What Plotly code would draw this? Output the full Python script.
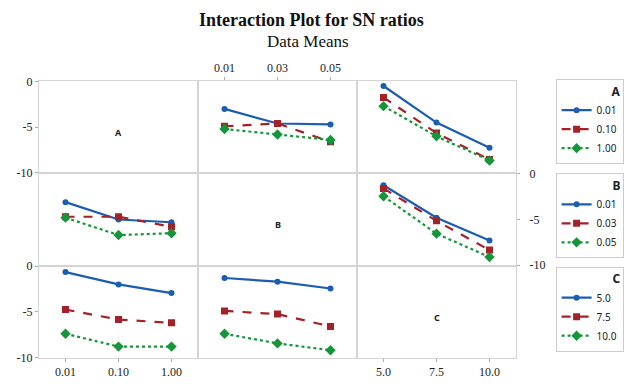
import plotly.graph_objects as go
from plotly.subplots import make_subplots

# Factor levels
a_levels = ["0.01", "0.10", "1.00"]
b_levels = ["0.01", "0.03", "0.05"]
c_levels = ["5.0", "7.5", "10.0"]

# Mean SN ratios for each interaction panel (rows = line factor, x = column factor)
# Row A: lines are A levels
a_over_b = [[-3.0, -4.6, -4.7], [-4.9, -4.6, -6.6], [-5.2, -5.8, -6.4]]
a_over_c = [[-0.5, -4.5, -7.25], [-1.75, -5.65, -8.55], [-2.7, -6.0, -8.65]]
# Row B: lines are B levels
b_over_a = [[-3.1, -5.0, -5.3], [-4.7, -4.7, -5.8], [-4.8, -6.7, -6.5]]
b_over_c = [[-1.25, -4.8, -7.3], [-1.6, -5.15, -8.35], [-2.45, -6.55, -9.1]]
# Row C: lines are C levels
c_over_a = [[-0.65, -2.0, -2.95], [-4.75, -5.85, -6.2], [-7.4, -8.8, -8.8]]
c_over_b = [[-1.3, -1.7, -2.45], [-4.9, -5.25, -6.6], [-7.4, -8.45, -9.2]]

y_ticks = [0, -5, -10]
y_tick_text = ["0", "-5", "-10"]
factor_names = ["A", "B", "C"]

colors = ["#1c5db0", "#a3222a", "#16953a"]
dashes = ["solid", "dash", "dot"]
symbols = ["circle", "square", "diamond"]
msizes = [6, 7, 8]

SERIF = "Liberation Serif, Times New Roman, serif"
SANS = "Noto Sans, DejaVu Sans, sans-serif"
GRID = "#d4d4d4"

fig = make_subplots(rows=3, cols=3, horizontal_spacing=0, vertical_spacing=0)

panels = [
    (1, 2, a_over_b, a_levels, "legend", True),
    (1, 3, a_over_c, a_levels, "legend", False),
    (2, 1, b_over_a, b_levels, "legend2", True),
    (2, 3, b_over_c, b_levels, "legend2", False),
    (3, 1, c_over_a, c_levels, "legend3", True),
    (3, 2, c_over_b, c_levels, "legend3", False),
]

for row, col, series, names, leg, show in panels:
    for i, vals in enumerate(series):
        fig.add_trace(
            go.Scatter(
                x=[0, 1, 2],
                y=vals,
                mode="lines+markers",
                name=names[i],
                line=dict(color=colors[i], width=2.2, dash=dashes[i]),
                marker=dict(color=colors[i], symbol=symbols[i], size=msizes[i]),
                legend=leg,
                showlegend=show,
            ),
            row=row,
            col=col,
        )

level_lists = [a_levels, b_levels, c_levels]
tick_font = dict(family=SERIF, size=12, color="#222")

for r in range(1, 4):
    for c in range(1, 4):
        fig.update_xaxes(
            range=[-0.5, 2.5], tickvals=[0, 1, 2], ticktext=level_lists[c - 1],
            showticklabels=False, ticks="", showgrid=False, zeroline=False,
            showline=True, mirror=True, linecolor=GRID, linewidth=1,
            tickfont=tick_font, row=r, col=c,
        )
        fig.update_yaxes(
            range=[-10.05, 0.05], tickvals=y_ticks, ticktext=y_tick_text,
            showticklabels=False, ticks="", showgrid=False, zeroline=False,
            showline=True, mirror=True, linecolor=GRID, linewidth=1,
            tickfont=tick_font, row=r, col=c,
        )

tick_style = dict(showticklabels=True, ticks="outside", ticklen=3, tickcolor="#aaa")
# Left axis labels for rows A and C, right axis for row B
fig.update_yaxes(**tick_style, row=1, col=1)
fig.update_yaxes(**tick_style, row=3, col=1)
fig.update_yaxes(**tick_style, side="right", ticklabelstandoff=7, row=2, col=3)
# Bottom labels for A and C columns, top labels for the B column
fig.update_xaxes(**tick_style, row=3, col=1)
fig.update_xaxes(**tick_style, row=3, col=3)
fig.update_xaxes(**tick_style, side="top", row=1, col=2)

# Factor names on the diagonal panels
for k, name in enumerate(factor_names):
    suffix = "" if k == 0 else str(k * 4 + 1)
    fig.add_annotation(
        x=1, y=-5.6, xref="x" + suffix, yref="y" + suffix,
        text=f"<b>{name}</b>", showarrow=False,
        font=dict(family=SANS, size=9, color="#222"),
    )

legend_style = dict(
    bgcolor="white", bordercolor="#cccccc", borderwidth=1,
    font=dict(family=SANS, size=10, color="#222"),
    xanchor="left", yanchor="top", x=1.083,
    tracegroupgap=0, itemwidth=30,
)
fig.update_layout(
    legend=dict(**legend_style, y=1.007, title=dict(text="<b>A</b>", side="top right")),
    legend2=dict(**legend_style, y=0.667, title=dict(text="<b>B</b>", side="top right")),
    legend3=dict(**legend_style, y=0.330, title=dict(text="<b>C</b>", side="top right")),
)

fig.update_layout(
    width=636, height=391,
    margin=dict(l=39, r=114, t=81, b=22),
    paper_bgcolor="white", plot_bgcolor="white",
    font=dict(family=SERIF, color="#222"),
)

# Title and subtitle
fig.add_annotation(
    text="<b>Interaction Plot for SN ratios</b>", xref="paper", yref="paper",
    x=(315 - 39) / 483, y=(369 - 18) / 288, xanchor="center", yanchor="middle",
    showarrow=False, font=dict(family=SERIF, size=18, color="#111"),
)
fig.add_annotation(
    text="Data Means", xref="paper", yref="paper",
    x=(311 - 39) / 483, y=(369 - 40) / 288, xanchor="center", yanchor="middle",
    showarrow=False, font=dict(family=SERIF, size=17, color="#111"),
)

fig.write_html("out.html")
